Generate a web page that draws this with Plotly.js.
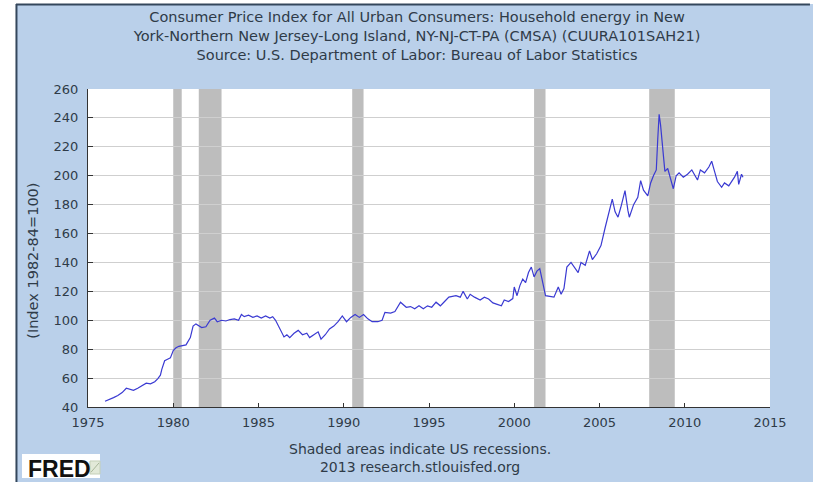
<!DOCTYPE html>
<html>
<head>
<meta charset="utf-8">
<script src="https://cdn.plot.ly/plotly-3.0.1.min.js"></script>
<style>
  html, body { margin: 0; padding: 0; background: #ffffff; }
  #chart { width: 813px; height: 482px; }
</style>
</head>
<body>
<div id="chart"></div>
<script>
// CPI household energy, NY-NJ-CT-PA
var dates = [
  "1976-01","1976-04","1976-07","1976-10","1977-01","1977-04","1977-07","1977-09","1977-12",
  "1978-03","1978-06","1978-09","1978-12","1979-02","1979-04","1979-05","1979-07","1979-09","1979-11",
  "1980-01","1980-03","1980-05","1980-08","1980-10","1981-01","1981-03","1981-05","1981-07","1981-09","1981-12",
  "1982-03","1982-06","1982-08","1982-11","1983-02","1983-05","1983-08","1983-11",
  "1984-01","1984-03","1984-06","1984-09","1984-12","1985-03","1985-06","1985-09","1985-11",
  "1986-01","1986-03","1986-05","1986-07","1986-09","1986-11","1987-02","1987-05","1987-08","1987-11",
  "1988-01","1988-04","1988-07","1988-09","1988-12","1989-03","1989-06","1989-09","1989-12",
  "1990-03","1990-06","1990-09","1990-12","1991-03","1991-06","1991-09","1992-01","1992-04","1992-06","1992-10",
  "1993-01","1993-05","1993-09","1993-12","1994-03","1994-06","1994-09","1994-12",
  "1995-03","1995-06","1995-09","1995-12","1996-03","1996-08","1996-11",
  "1997-01","1997-03","1997-04","1997-06","1997-09","1998-01","1998-04","1998-07","1998-10",
  "1999-01","1999-04","1999-06","1999-09","1999-12","2000-01","2000-03","2000-05","2000-07","2000-09","2000-11",
  "2001-01","2001-03","2001-05","2001-07","2001-09","2001-11","2002-02","2002-05","2002-08","2002-10","2002-12",
  "2003-02","2003-05","2003-07","2003-10","2003-12","2004-03","2004-06","2004-08","2004-11",
  "2005-02","2005-05","2005-08","2005-10","2005-12","2006-02","2006-04","2006-07","2006-09","2006-10",
  "2007-01","2007-04","2007-06","2007-08","2007-11","2008-01","2008-03","2008-05","2008-06","2008-07","2008-08","2008-09","2008-11",
  "2009-01","2009-03","2009-05","2009-07","2009-09","2009-12","2010-03","2010-06","2010-08","2010-10","2010-12",
  "2011-03","2011-06","2011-08","2011-10","2011-12","2012-03","2012-05","2012-08","2012-10","2012-12",
  "2013-02","2013-03","2013-05","2013-06"
];
var values = [
  44,45,46.5,48,50,53,52,51.5,53,
  55,56.5,56,57.5,59.5,62,66,72,73,74,
  79,81,82,82.5,83,88,96,97.5,96,95,95.5,
  100,101.5,99,100,99.5,100.5,101,100,
  104,102.5,103.5,102,103,101.5,103,101.5,102.5,
  100,96,92,88.5,90,88,91,93,90,91,
  88,90,92,87,90,94,96,99,103,
  99,102,104,102,104,101,99,99,100,105.5,105,
  106,112.5,109,109.5,108,110,108,110,
  109,112.5,110,113,116,117,116,
  120,117,114.7,118,116,114,116,114.7,112,
  111,110,114,113,115,123,117,124,128.5,126,133,
  136.8,130,134,135.7,125,117,116.5,116,123,118,122,
  136.8,140,137,133,140,138,148,142,146,
  151.7,164,176,183.8,175,171.3,178,189.7,176,171.3,
  180,185,196.6,190,186,195,200,204,225,242.5,235,224,203,
  205,198,191,200,202,199,201,204,200,197,204,
  202,206,210,203,196,192,195,193,196,199,
  203,194,201,199
];

// US recessions (shaded)
var recStart = ["1980-01-01","1981-07-01","1990-07-01","2001-03-01","2007-12-01"];
var recEnd   = ["1980-07-01","1982-11-01","1991-03-01","2001-11-01","2009-06-01"];

var yearTicks = ["1975-01-01","1980-01-01","1985-01-01","1990-01-01","1995-01-01",
                 "2000-01-01","2005-01-01","2010-01-01","2015-01-01"];
var yearLabels = ["1975","1980","1985","1990","1995","2000","2005","2010","2015"];

var txt = "#2f3b48";
var shapes = [];
for (var i = 0; i < recStart.length; i++) {
    shapes.push({
        type: "rect", xref: "x", yref: "paper",
        x0: recStart[i], x1: recEnd[i], y0: 0, y1: 1,
        fillcolor: "#bdbdbd", line: {width: 0}, layer: "between"
    });
}
// white page edges and the dark frame of the FRED panel
shapes.push({type: "rect", xref: "paper", yref: "paper", x0: -0.2, x1: -0.1056, y0: -0.3, y1: 1.3,
    fillcolor: "#ffffff", line: {width: 0}, layer: "above"});
shapes.push({type: "rect", xref: "paper", yref: "paper", x0: -0.2, x1: 1.2, y0: 1.2673, y1: 1.3,
    fillcolor: "#ffffff", line: {width: 0}, layer: "above"});
shapes.push({type: "line", xref: "paper", yref: "paper", x0: -0.1056, x1: 1.0586, y0: 1.2657, y1: 1.2657,
    line: {color: "#34475c", width: 2}});
shapes.push({type: "line", xref: "paper", yref: "paper", x0: -0.1049, x1: -0.1049, y0: -0.24, y1: 1.2673,
    line: {color: "#34475c", width: 2}});
// white logo plate and small graph icon of the FRED logo
shapes.push({type: "rect", xref: "paper", yref: "paper", x0: -0.0968, x1: 0.0176, y0: -0.2233, y1: -0.1478,
    fillcolor: "#ffffff", line: {width: 0}, layer: "above"});
shapes.push({type: "rect", xref: "paper", yref: "paper", x0: 0.0029, x1: 0.0176, y0: -0.2107, y1: -0.1698,
    fillcolor: "#e2e9d8", line: {color: "#c4cfb8", width: 1}, layer: "above"});
shapes.push({type: "line", xref: "paper", yref: "paper", x0: 0.0044, x1: 0.0161, y0: -0.2050, y1: -0.1760,
    line: {color: "#a9b79a", width: 1}, layer: "above"});

var trace = {
    x: dates,
    y: values,
    mode: "lines",
    line: {color: "#3a3ad2", width: 1.2},
    hoverinfo: "skip"
};

var layout = {
    width: 813,
    height: 482,
    margin: {l: 88, r: 43, t: 89, b: 75},
    paper_bgcolor: "#bad0ea",
    plot_bgcolor: "#ffffff",
    showlegend: false,
    font: {family: "DejaVu Sans", size: 12, color: txt},
    title: {
        text: "Consumer Price Index for All Urban Consumers: Household energy in New<br>" +
              "York-Northern New Jersey-Long Island, NY-NJ-CT-PA (CMSA) (CUURA101SAH21)<br>" +
              "Source: U.S. Department of Labor: Bureau of Labor Statistics",
        font: {family: "DejaVu Sans", size: 14.5, color: txt},
        x: 0.513, xref: "container", xanchor: "center",
        y: 0.954, yref: "container", yanchor: "middle"
    },
    xaxis: {
        type: "date",
        range: ["1975-01-01", "2015-01-01"],
        tickmode: "array",
        tickvals: yearTicks,
        ticktext: yearLabels,
        showgrid: false,
        zeroline: false,
        showline: true,
        linecolor: "#333333",
        linewidth: 1,
        ticks: "inside",
        ticklen: 4,
        tickcolor: "#333333",
        ticklabelstandoff: 3,
        tickfont: {family: "DejaVu Sans", size: 13, color: txt}
    },
    yaxis: {
        range: [40, 260],
        dtick: 20,
        tick0: 40,
        showgrid: true,
        gridcolor: "#cfcfcf",
        gridwidth: 1,
        zeroline: false,
        showline: true,
        linecolor: "#333333",
        linewidth: 1,
        ticks: "inside",
        ticklen: 5,
        tickcolor: "#333333",
        ticklabelstandoff: 6,
        tickfont: {family: "DejaVu Sans", size: 13, color: txt}
    },
    shapes: shapes,
    annotations: [
        {
            text: "(Index 1982-84=100)",
            xref: "paper", yref: "paper", x: -0.0806, y: 0.46,
            xanchor: "center", yanchor: "middle", textangle: -90, showarrow: false,
            font: {family: "DejaVu Sans", size: 14.5, color: txt}
        },
        {
            text: "Shaded areas indicate US recessions.<br>2013 research.stlouisfed.org",
            xref: "paper", yref: "paper", x: 0.487, y: -0.1,
            xanchor: "center", yanchor: "top", showarrow: false,
            font: {family: "DejaVu Sans", size: 14, color: txt}
        },
        {
            text: "<b>FRED</b>",
            xref: "paper", yref: "paper", x: -0.093, y: -0.145,
            xanchor: "left", yanchor: "top", showarrow: false,
            borderpad: 2,
            font: {family: "Liberation Sans", size: 23, color: "#111111"}
        }
    ]
};

Plotly.newPlot("chart", [trace], layout, {staticPlot: true, displayModeBar: false});
</script>
</body>
</html>
